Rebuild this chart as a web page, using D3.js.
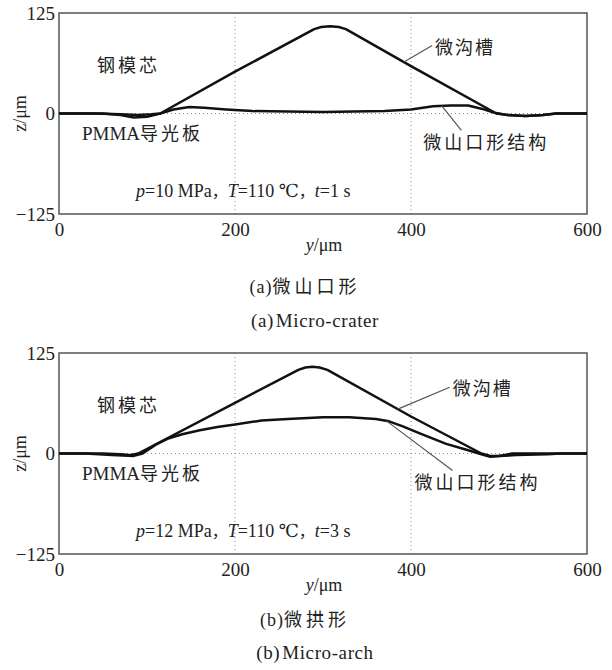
<!DOCTYPE html>
<html>
<head>
<meta charset="utf-8">
<script src="https://cdn.jsdelivr.net/npm/d3@7"></script>
<style>
  body { margin: 0; background: #fff; }
  svg text { fill: #222; }
  .serif { font-family: "Liberation Serif", "DejaVu Serif", serif; }
  .cjk { font-family: "Noto Sans CJK SC", sans-serif; }
</style>
</head>
<body>
<svg id="chart" width="612" height="670"></svg>
<script>
// ---- data ----
var xTicks = [0, 200, 400, 600];
var zTicks = [-125, 0, 125];

// (a) micro-crater: p=10 MPa, T=110 C, t=1 s
var moldAx = [0, 40, 70, 90, 105, 115, 200, 290, 298, 308, 318, 326, 400, 497, 510, 530, 550, 565, 600];
var moldAz = [0, 0, -1, -2, -1, 0, 52, 105, 107.5, 108.5, 107.5, 105, 59, 0, -2, -3, -2, 0, 0];
var pmmaAx = [0, 50, 70, 85, 100, 115, 130, 148, 165, 190, 220, 300, 370, 400, 425, 445, 465, 480, 495, 510, 530, 550, 565, 600];
var pmmaAz = [0, 0, -2, -5, -4, 0, 5, 8, 7, 5, 3, 2, 3, 5, 9, 10, 10, 6, 1, -2, -3, -2, 0, 0];

// (b) micro-arch: p=12 MPa, T=110 C, t=3 s
var moldBx = [0, 50, 70, 80, 90, 200, 272, 280, 288, 296, 305, 400, 480, 490, 500, 515, 600];
var moldBz = [0, 0, -1, -2, 0, 63, 104, 107, 108, 107, 104, 46, 0, -3, -3, 0, 0];
var pmmaBx = [0, 30, 60, 85, 95, 110, 125, 140, 160, 180, 200, 230, 260, 300, 330, 360, 375, 390, 410, 440, 465, 480, 490, 500, 520, 555, 570, 600];
var pmmaBz = [0, 0, -2, -3, 0, 11, 19, 24, 29, 33, 36, 41, 43, 45, 45, 43, 40, 34, 25, 12, 4, -1, -4, -3, -2, -1, 0, 0];

var panels = [
  { top: 13, mold: [moldAx, moldAz], pmma: [pmmaAx, pmmaAz],
    p: "10", t: "1", cn: ["(a)", "微山口形"], en: ["(a)", "Micro-crater"],
    capY: [287, 320],
    grooveLbl: [424, 82], grooveTip: 392,
    structLbl: [414, -36], structTip: 435 },
  { top: 353, mold: [moldBx, moldBz], pmma: [pmmaBx, pmmaBz],
    p: "12", t: "3", cn: ["(b)", "微拱形"], en: ["(b)", "Micro-arch"],
    capY: [620, 652],
    grooveLbl: [444, 80], grooveTip: 385,
    structLbl: [404, -36], structTip: 372 }
];

var svg = d3.select("#chart");
var x = d3.scaleLinear().domain([0, 600]).range([59, 587]);

function interp(xs, zs, v) {
  return d3.scaleLinear().domain(xs).range(zs)(v);
}

panels.forEach(function (pd) {
  var y = d3.scaleLinear().domain([-125, 125]).range([pd.top + 201, pd.top]);
  var g = svg.append("g");

  // dotted grid
  g.selectAll(".vgrid").data([200, 400]).enter().append("line")
    .attr("x1", d => x(d)).attr("x2", d => x(d))
    .attr("y1", y(125)).attr("y2", y(-125))
    .attr("stroke", "#888").attr("stroke-width", 1)
    .attr("stroke-dasharray", "1,3");
  g.append("line")
    .attr("x1", x(0)).attr("x2", x(600))
    .attr("y1", y(0)).attr("y2", y(0))
    .attr("stroke", "#888").attr("stroke-width", 1)
    .attr("stroke-dasharray", "1,3");

  // axes
  var xAxis = d3.axisBottom(x).tickValues(xTicks).tickSize(0).tickPadding(9)
    .tickFormat(d3.format("d"));
  var yAxis = d3.axisLeft(y).tickValues(zTicks).tickSize(0).tickPadding(4)
    .tickFormat(d3.format("d"));
  g.append("g").attr("transform", "translate(0," + y(-125) + ")").call(xAxis)
    .call(a => a.select(".domain").remove())
    .selectAll("text").attr("class", "serif").style("font-size", "19px").attr("fill", "#222");
  g.append("g").attr("transform", "translate(" + x(0) + ",0)").call(yAxis)
    .call(a => a.select(".domain").remove())
    .selectAll("text").attr("class", "serif").style("font-size", "19px").attr("fill", "#222");

  // frame
  g.append("rect")
    .attr("x", x(0)).attr("y", y(125))
    .attr("width", x(600) - x(0)).attr("height", y(-125) - y(125))
    .attr("fill", "none").attr("stroke", "#555").attr("stroke-width", 1.5);

  // curves
  var line = d3.line().x(d => x(d[0])).y(d => y(d[1]));
  [pd.mold, pd.pmma].forEach(function (s) {
    g.append("path")
      .datum(d3.zip(s[0], s[1]))
      .attr("d", line)
      .attr("fill", "none").attr("stroke", "#111").attr("stroke-width", 2.5)
      .attr("stroke-linejoin", "round");
  });

  // axis titles
  g.append("text").attr("class", "serif")
    .attr("transform", "translate(20," + y(0) + ") rotate(-90)")
    .attr("text-anchor", "middle").attr("dy", "0.35em")
    .style("font-size", "18px")
    .text("z/μm");
  var xl = g.append("text").attr("class", "serif")
    .attr("x", 324).attr("y", y(-125) + 37)
    .attr("text-anchor", "middle").style("font-size", "18px");
  xl.append("tspan").style("font-style", "italic").text("y");
  xl.append("tspan").text("/μm");

  // annotations
  g.append("text").attr("class", "cjk").attr("x", 97).attr("y", y(60))
    .attr("dy", "0.35em").style("font-size", "18px").attr("letter-spacing", "3px").text("钢模芯");
  g.append("text").attr("x", 82).attr("y", y(-26))
    .attr("dy", "0.35em")
    .call(t => {
      t.append("tspan").attr("class", "serif").style("font-size", "19px").text("PMMA");
      t.append("tspan").attr("class", "cjk").style("font-size", "18px").attr("letter-spacing", "3px").text("导光板");
    });
  g.append("text").attr("class", "cjk")
    .attr("x", x(pd.grooveLbl[0]) + 3).attr("y", y(pd.grooveLbl[1]))
    .attr("dy", "0.35em").style("font-size", "18px").attr("letter-spacing", "2px").text("微沟槽");
  g.append("line")
    .attr("x1", x(pd.grooveLbl[0])).attr("y1", y(pd.grooveLbl[1]) - 2)
    .attr("x2", x(pd.grooveTip)).attr("y2", y(interp(pd.mold[0], pd.mold[1], pd.grooveTip)))
    .attr("stroke", "#555").attr("stroke-width", 1.2);
  g.append("text").attr("class", "cjk")
    .attr("x", x(pd.structLbl[0])).attr("y", y(pd.structLbl[1]))
    .attr("dy", "0.35em").style("font-size", "18px").attr("letter-spacing", "3px").text("微山口形结构");
  g.append("line")
    .attr("x1", x(pd.structLbl[0]) + 38).attr("y1", y(pd.structLbl[1]) - 12)
    .attr("x2", x(pd.structTip)).attr("y2", y(interp(pd.pmma[0], pd.pmma[1], pd.structTip)))
    .attr("stroke", "#555").attr("stroke-width", 1.2);

  // condition text
  var c = g.append("text").attr("class", "serif")
    .attr("x", 136).attr("y", y(-96)).attr("dy", "0.35em")
    .style("font-size", "18px");
  c.append("tspan").style("font-style", "italic").text("p");
  c.append("tspan").text("=" + pd.p + " MPa");
  c.append("tspan").attr("class", "cjk").style("font-size", "16px").text("，");
  c.append("tspan").style("font-style", "italic").text("T");
  c.append("tspan").text("=110 ℃");
  c.append("tspan").attr("class", "cjk").style("font-size", "16px").text("，");
  c.append("tspan").style("font-style", "italic").text("t");
  c.append("tspan").text("=" + pd.t + " s");

  // captions
  var cap = g.append("text").attr("x", 305).attr("y", pd.capY[0])
    .attr("text-anchor", "middle").attr("dy", "0.35em");
  cap.append("tspan").attr("class", "serif").style("font-size", "18px").attr("letter-spacing", "1px").text(pd.cn[0]);
  cap.append("tspan").attr("class", "cjk").style("font-size", "18px").attr("letter-spacing", "4px").text(pd.cn[1]);
  var en = g.append("text").attr("class", "serif").attr("x", 315).attr("y", pd.capY[1])
    .attr("text-anchor", "middle").attr("dy", "0.35em").style("font-size", "19px")
    .attr("letter-spacing", "0.6px");
  en.append("tspan").text(pd.en[0]);
  en.append("tspan").attr("dx", 2).text(pd.en[1]);
});
</script>
</body>
</html>
